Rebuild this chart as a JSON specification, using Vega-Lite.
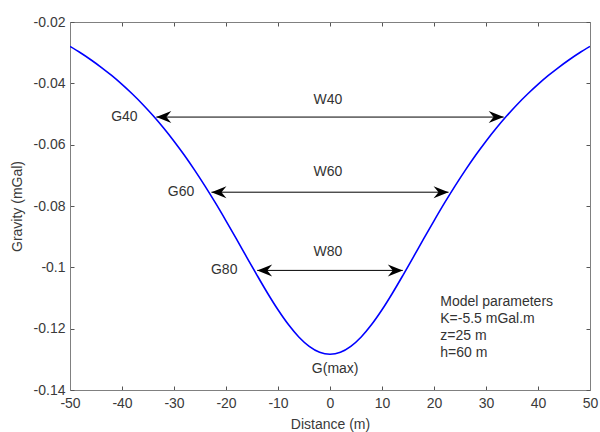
{
  "$schema": "https://vega.github.io/schema/vega-lite/v6.json",
  "width": 520,
  "height": 368,
  "autosize": {"type": "none"},
  "padding": {"left": 70, "top": 22, "right": 10, "bottom": 42},
  "background": "white",
  "config": {
    "view": {"stroke": null},
    "font": "Liberation Sans",
    "text": {"font": "Liberation Sans", "fontSize": 14, "color": "#333333"},
    "axis": {
      "labelFont": "Liberation Sans",
      "titleFont": "Liberation Sans",
      "labelFontSize": 14,
      "titleFontSize": 14,
      "titleFontWeight": "normal",
      "labelColor": "#3a3a3a",
      "titleColor": "#3a3a3a",
      "domainColor": "#808080",
      "tickColor": "#555555",
      "grid": false,
      "tickSize": -4,
      "labelFlush": false,
      "labelOverlap": false
    }
  },
  "datasets": {
    "curve": [
      {"x": -50, "g": -0.02797},
      {"x": -48, "g": -0.03004},
      {"x": -46, "g": -0.0323},
      {"x": -44, "g": -0.03476},
      {"x": -42, "g": -0.03743},
      {"x": -40, "g": -0.04033},
      {"x": -38, "g": -0.04348},
      {"x": -36, "g": -0.04688},
      {"x": -34, "g": -0.05058},
      {"x": -32, "g": -0.05456},
      {"x": -30, "g": -0.05885},
      {"x": -28, "g": -0.06345},
      {"x": -26, "g": -0.06838},
      {"x": -24, "g": -0.0736},
      {"x": -22, "g": -0.07909},
      {"x": -20, "g": -0.08483},
      {"x": -18, "g": -0.09073},
      {"x": -16, "g": -0.09673},
      {"x": -14, "g": -0.10268},
      {"x": -12, "g": -0.10845},
      {"x": -10, "g": -0.11385},
      {"x": -8, "g": -0.11867},
      {"x": -6, "g": -0.12271},
      {"x": -4, "g": -0.12577},
      {"x": -2, "g": -0.12769},
      {"x": 0, "g": -0.12833},
      {"x": 2, "g": -0.12769},
      {"x": 4, "g": -0.12577},
      {"x": 6, "g": -0.12271},
      {"x": 8, "g": -0.11867},
      {"x": 10, "g": -0.11385},
      {"x": 12, "g": -0.10845},
      {"x": 14, "g": -0.10268},
      {"x": 16, "g": -0.09673},
      {"x": 18, "g": -0.09073},
      {"x": 20, "g": -0.08483},
      {"x": 22, "g": -0.07909},
      {"x": 24, "g": -0.0736},
      {"x": 26, "g": -0.06838},
      {"x": 28, "g": -0.06345},
      {"x": 30, "g": -0.05885},
      {"x": 32, "g": -0.05456},
      {"x": 34, "g": -0.05058},
      {"x": 36, "g": -0.04688},
      {"x": 38, "g": -0.04348},
      {"x": 40, "g": -0.04033},
      {"x": 42, "g": -0.03743},
      {"x": 44, "g": -0.03476},
      {"x": 46, "g": -0.0323},
      {"x": 48, "g": -0.03004},
      {"x": 50, "g": -0.02797}
    ],
    "arrows": [
      {"w": "W40", "x1": -33.4, "x2": 33.4, "y": -0.051},
      {"w": "W60", "x1": -22.8, "x2": 22.8, "y": -0.0755},
      {"w": "W80", "x1": -14.0, "x2": 14.0, "y": -0.101}
    ],
    "gLabels": [
      {"x": -37.0, "y": -0.051, "label": "G40"},
      {"x": -26.1, "y": -0.0755, "label": "G60"},
      {"x": -17.8, "y": -0.101, "label": "G80"}
    ],
    "wLabels": [
      {"x": -0.4, "y": -0.0455, "label": "W40"},
      {"x": -0.4, "y": -0.0689, "label": "W60"},
      {"x": -0.4, "y": -0.095, "label": "W80"},
      {"x": 1.0, "y": -0.133, "label": "G(max)"}
    ],
    "params": [
      {"x": 21.2, "y": -0.1113, "label": "Model parameters"},
      {"x": 21.2, "y": -0.1169, "label": "K=-5.5 mGal.m"},
      {"x": 21.2, "y": -0.1225, "label": "z=25 m"},
      {"x": 21.2, "y": -0.1279, "label": "h=60 m"}
    ]
  },
  "layer": [
    {
      "data": {"name": "arrows"},
      "mark": {"type": "rule", "color": "black", "strokeWidth": 1},
      "encoding": {
        "x": {
          "field": "x1", "type": "quantitative",
          "scale": {"domain": [-50, 50], "nice": false, "zero": false},
          "axis": {"orient": "top", "labels": false, "title": null, "values": [-50, -40, -30, -20, -10, 0, 10, 20, 30, 40, 50]}
        },
        "x2": {"field": "x2"},
        "y": {
          "field": "y", "type": "quantitative",
          "scale": {"domain": [-0.14, -0.02], "nice": false, "zero": false},
          "axis": {"orient": "right", "labels": false, "title": null, "values": [-0.14, -0.12, -0.1, -0.08, -0.06, -0.04, -0.02]}
        }
      }
    },
    {
      "data": {"name": "arrows"},
      "mark": {"type": "point", "shape": "M0,0L1,-0.4L0.67,0L1,0.4Z", "filled": true, "color": "black", "opacity": 1, "size": 900},
      "encoding": {
        "x": {"field": "x1", "type": "quantitative", "axis": null},
        "y": {"field": "y", "type": "quantitative", "axis": null}
      }
    },
    {
      "data": {"name": "arrows"},
      "mark": {"type": "point", "shape": "M0,0L-1,-0.4L-0.67,0L-1,0.4Z", "filled": true, "color": "black", "opacity": 1, "size": 900},
      "encoding": {
        "x": {"field": "x2", "type": "quantitative", "axis": null},
        "y": {"field": "y", "type": "quantitative", "axis": null}
      }
    },
    {
      "data": {"name": "curve"},
      "mark": {"type": "line", "color": "#0000ff", "strokeWidth": 1.6, "interpolate": "monotone", "clip": true},
      "encoding": {
        "x": {
          "field": "x", "type": "quantitative",
          "axis": {
            "orient": "bottom", "title": "Distance (m)",
            "values": [-50, -40, -30, -20, -10, 0, 10, 20, 30, 40, 50],
            "labelExpr": "'' + datum.value",
            "labelPadding": 10, "titlePadding": 7
          }
        },
        "y": {
          "field": "g", "type": "quantitative",
          "axis": {
            "orient": "left", "title": "Gravity (mGal)",
            "values": [-0.14, -0.12, -0.1, -0.08, -0.06, -0.04, -0.02],
            "labelExpr": "'' + datum.value",
            "labelPadding": 9, "titlePadding": 9
          }
        }
      }
    },
    {
      "data": {"name": "gLabels"},
      "mark": {"type": "text", "align": "right", "baseline": "middle"},
      "encoding": {
        "x": {"field": "x", "type": "quantitative", "axis": null},
        "y": {"field": "y", "type": "quantitative", "axis": null},
        "text": {"field": "label"}
      }
    },
    {
      "data": {"name": "wLabels"},
      "mark": {"type": "text", "align": "center", "baseline": "middle"},
      "encoding": {
        "x": {"field": "x", "type": "quantitative", "axis": null},
        "y": {"field": "y", "type": "quantitative", "axis": null},
        "text": {"field": "label"}
      }
    },
    {
      "data": {"name": "params"},
      "mark": {"type": "text", "align": "left", "baseline": "middle"},
      "encoding": {
        "x": {"field": "x", "type": "quantitative", "axis": null},
        "y": {"field": "y", "type": "quantitative", "axis": null},
        "text": {"field": "label"}
      }
    }
  ],
  "resolve": {"axis": {"x": "independent", "y": "independent"}}
}
